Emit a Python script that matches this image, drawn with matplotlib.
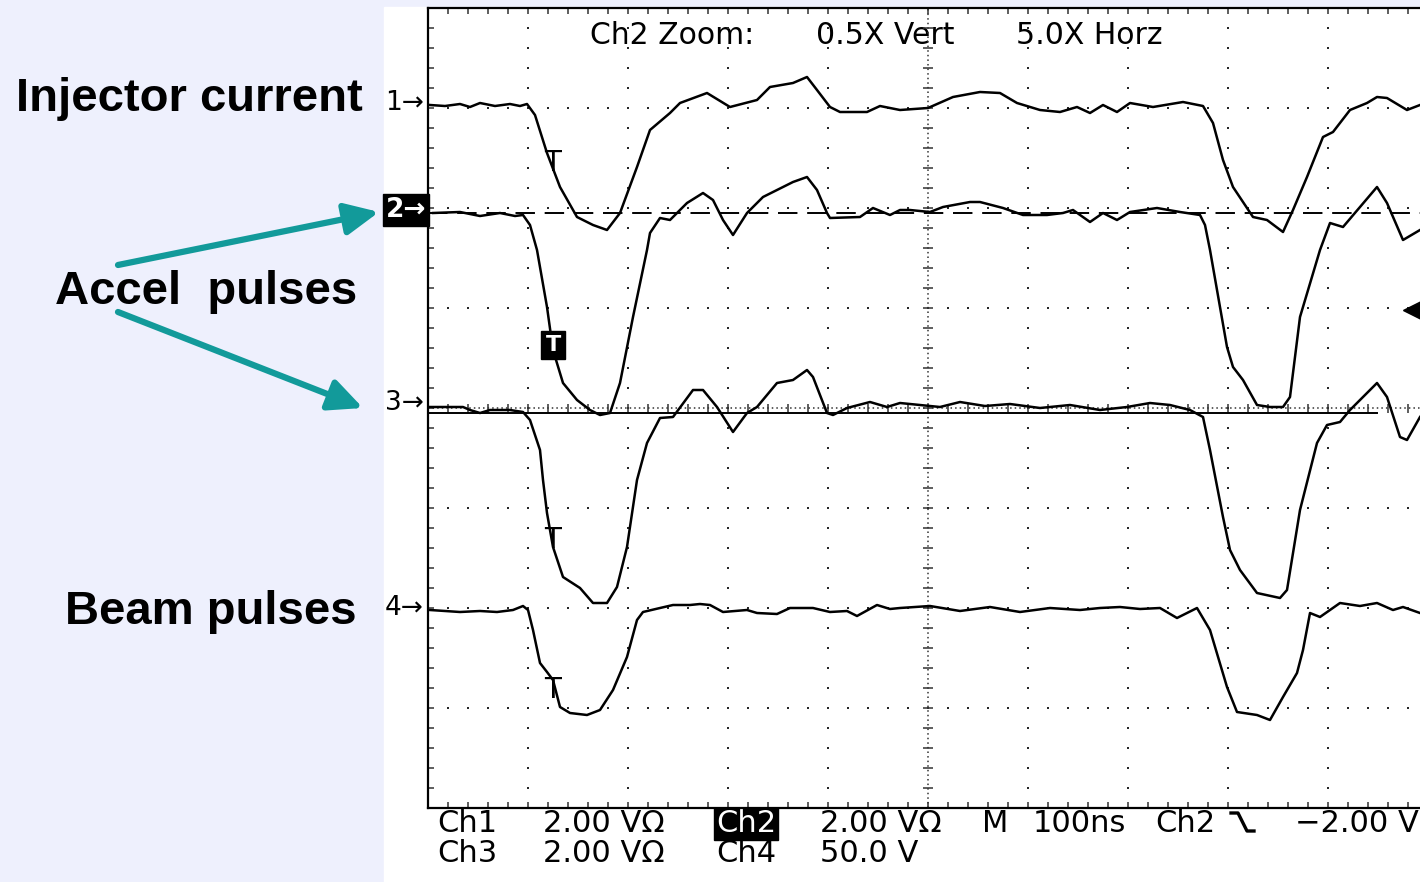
import numpy as np
import matplotlib.pyplot as plt
import matplotlib.transforms as mtransforms
from matplotlib.patches import Rectangle

# scope traces, (time div, level div); 10 x 8 divisions
ch1 = [(0.02, 3.03), (0.17, 3.02), (0.32, 3.04), (0.42, 3.01), (0.52, 3.05), (0.67, 3.02),
       (0.82, 3.04), (0.92, 3.02), (0.99, 3.04), (1.07, 2.93), (1.19, 2.55), (1.32, 2.21),
       (1.49, 1.91), (1.65, 1.83), (1.79, 1.78), (1.92, 1.95), (2.09, 2.41), (2.22, 2.78),
       (2.42, 2.95), (2.52, 3.05), (2.79, 3.15), (3.02, 3.01), (3.29, 3.08), (3.42, 3.21),
       (3.65, 3.25), (3.79, 3.31), (3.89, 3.18), (4.02, 3.01), (4.12, 2.96), (4.39, 2.96),
       (4.52, 3.02), (4.72, 2.98), (5.00, 3.00), (5.25, 3.11), (5.52, 3.16), (5.72, 3.15),
       (5.89, 3.05), (6.12, 2.98), (6.32, 2.96), (6.49, 3.01), (6.62, 2.95), (6.75, 3.03),
       (6.89, 2.96), (7.02, 3.05), (7.25, 3.01), (7.55, 3.06), (7.75, 3.02), (7.85, 2.85),
       (7.95, 2.48), (8.05, 2.21), (8.25, 1.91), (8.39, 1.88), (8.55, 1.76), (8.65, 1.98),
       (8.79, 2.31), (8.95, 2.71), (9.05, 2.76), (9.22, 2.98), (9.39, 3.05), (9.49, 3.11),
       (9.59, 3.10), (9.79, 2.98), (9.92, 3.03)]

ch2 = [(0.05, 1.95), (0.32, 1.96), (0.52, 1.92), (0.72, 1.95), (0.87, 1.92), (0.95, 1.93),
       (1.02, 1.83), (1.09, 1.58), (1.19, 1.01), (1.25, 0.58), (1.35, 0.25), (1.49, 0.08),
       (1.62, -0.02), (1.72, -0.07), (1.82, -0.05), (1.92, 0.25), (2.05, 0.91), (2.19, 1.58),
       (2.22, 1.75), (2.32, 1.90), (2.42, 1.88), (2.59, 2.05), (2.75, 2.15), (2.85, 2.08),
       (2.95, 1.88), (3.05, 1.73), (3.19, 1.95), (3.35, 2.11), (3.55, 2.21), (3.65, 2.26),
       (3.79, 2.31), (3.89, 2.18), (3.99, 1.95), (4.02, 1.90), (4.32, 1.91), (4.45, 2.00),
       (4.62, 1.93), (4.72, 1.98), (4.82, 1.98), (5.02, 1.96), (5.15, 2.01), (5.42, 2.06),
       (5.52, 2.06), (5.75, 2.00), (5.95, 1.93), (6.19, 1.93), (6.35, 1.95), (6.45, 1.98),
       (6.62, 1.86), (6.75, 1.95), (6.89, 1.88), (7.02, 1.96), (7.29, 2.00), (7.52, 1.96),
       (7.72, 1.93), (7.77, 1.83), (7.82, 1.58), (7.99, 0.61), (8.05, 0.41), (8.15, 0.28),
       (8.29, 0.03), (8.42, 0.01), (8.55, 0.01), (8.62, 0.11), (8.72, 0.91), (8.92, 1.58),
       (9.02, 1.85), (9.15, 1.81), (9.32, 2.01), (9.49, 2.21), (9.59, 2.05), (9.75, 1.68),
       (9.92, 1.78)]

ch3 = [(0.02, 0.01), (0.35, 0.01), (0.42, -0.02), (0.52, -0.05), (0.62, -0.02), (0.82, -0.02),
       (0.95, -0.04), (1.02, -0.12), (1.12, -0.42), (1.15, -0.72), (1.19, -1.05), (1.25, -1.39),
       (1.35, -1.69), (1.52, -1.80), (1.65, -1.95), (1.79, -1.95), (1.89, -1.79), (1.99, -1.39),
       (2.09, -0.72), (2.19, -0.35), (2.32, -0.10), (2.45, -0.09), (2.65, 0.18), (2.75, 0.18),
       (2.89, 0.01), (3.05, -0.24), (3.19, -0.05), (3.29, 0.01), (3.49, 0.25), (3.65, 0.28),
       (3.79, 0.38), (3.85, 0.31), (3.99, -0.05), (4.05, -0.07), (4.19, 0.00), (4.42, 0.06),
       (4.59, 0.01), (4.72, 0.05), (4.92, 0.03), (5.12, 0.01), (5.32, 0.06), (5.57, 0.02),
       (5.82, 0.04), (6.12, 0.00), (6.42, 0.03), (6.72, -0.02), (6.99, 0.01), (7.22, 0.05),
       (7.42, 0.03), (7.62, -0.02), (7.75, -0.09), (7.82, -0.42), (7.95, -1.09), (8.02, -1.42),
       (8.12, -1.62), (8.29, -1.85), (8.52, -1.90), (8.59, -1.82), (8.72, -1.02), (8.89, -0.35),
       (8.99, -0.17), (9.12, -0.14), (9.22, -0.02), (9.49, 0.25), (9.59, 0.11), (9.72, -0.29),
       (9.79, -0.32), (9.92, -0.09)]

ch4 = [(0.02, -2.02), (0.32, -2.04), (0.52, -2.03), (0.69, -2.04), (0.85, -2.02), (0.95, -1.98),
       (1.00, -2.02), (1.05, -2.22), (1.12, -2.55), (1.19, -2.64), (1.25, -2.72), (1.32, -2.99),
       (1.42, -3.05), (1.59, -3.07), (1.72, -3.02), (1.85, -2.82), (1.99, -2.49), (2.09, -2.12),
       (2.15, -2.04), (2.32, -2.00), (2.45, -1.97), (2.62, -1.97), (2.72, -1.96), (2.82, -1.97),
       (2.95, -2.04), (3.19, -2.02), (3.29, -2.05), (3.49, -2.06), (3.62, -2.00), (3.85, -2.00),
       (4.02, -2.04), (4.19, -2.03), (4.29, -2.08), (4.49, -1.97), (4.62, -2.01), (4.72, -2.00),
       (5.02, -1.98), (5.32, -2.03), (5.62, -1.99), (5.92, -2.04), (6.22, -2.00), (6.52, -2.02),
       (6.72, -2.00), (6.92, -1.99), (7.12, -2.01), (7.32, -2.00), (7.49, -2.10), (7.69, -2.00),
       (7.82, -2.22), (7.99, -2.79), (8.09, -3.04), (8.29, -3.07), (8.42, -3.12), (8.55, -2.89),
       (8.69, -2.65), (8.75, -2.42), (8.82, -2.05), (8.92, -2.09), (9.12, -1.95), (9.32, -1.98),
       (9.49, -1.95), (9.65, -2.02), (9.75, -1.99), (9.92, -2.05)]

ground_levels = [3.05, 1.98, 0.05, -2.00]
ground_labels = ['1\u2192', '2\u2192', '3\u2192', '4\u2192']
ch2_zoom_ref = 1.95
ch3_ref = -0.05
ch3_ref_end = 9.49
trig_time, trig_level = 9.85, 0.98
t_marks = [(1.25, 2.55), (1.25, -1.22), (1.25, -2.72)]
t_mark_ch2 = (1.25, 0.63)

zoom_info = ['Ch2 Zoom:', '0.5X Vert', '5.0X Horz']
readout_1 = ['Ch1', '2.00 V\u03a9', 'Ch2', '2.00 V\u03a9', 'M', '100ns', 'Ch2', '\u22122.00 V']
readout_2 = ['Ch3', '2.00 V\u03a9', 'Ch4', '50.0 V']
side_labels = ['Injector current', 'Accel  pulses', 'Beam pulses']

W, H = 1420, 882
fig = plt.figure(figsize=(W / 100, H / 100), dpi=100)
fig.patch.set_facecolor('#eef0fd')

# layout layer in pixel units
lay = fig.add_axes([0, 0, 1, 1])
lay.set_xlim(0, W)
lay.set_ylim(H, 0)
lay.axis('off')
lay.add_patch(Rectangle((384, 7), W - 384, H - 7, color='white', zorder=0))

teal = '#129a9a'
for txt, xr, yb in zip(side_labels, [363, 357, 357], [111, 304, 624]):
    lay.text(xr, yb, txt, ha='right', va='baseline', fontsize=34, fontweight='bold',
             family=['Liberation Sans', 'DejaVu Sans'])
for tail, tip in [((118, 265), (379, 212)), ((118, 312), (363, 408))]:
    lay.annotate('', xy=tip, xytext=tail,
                 arrowprops=dict(arrowstyle='-|>,head_length=0.85,head_width=0.4',
                                 lw=4.5, color=teal, mutation_scale=24,
                                 shrinkA=0, shrinkB=0))

for txt, x in zip(zoom_info, [590, 816, 1016]):
    lay.text(x, 36, txt, ha='left', va='center', fontsize=21.5)
for txt, x in zip(readout_1, [437, 543, 716, 820, 982, 1033, 1155, 1295]):
    if txt == 'Ch2' and x < 800:
        lay.text(x, 824, txt, ha='left', va='center', fontsize=22, color='white',
                 bbox=dict(facecolor='black', edgecolor='black', boxstyle='square,pad=0.05'))
    else:
        lay.text(x, 824, txt, ha='left', va='center', fontsize=22)
for txt, x in zip(readout_2, [437, 543, 716, 820]):
    lay.text(x, 853, txt, ha='left', va='center', fontsize=22)
# falling-edge trigger glyph
lay.plot([1231, 1238, 1247, 1254], [813, 813, 831, 831], color='black', lw=2.4)

# scope graticule
ax = fig.add_axes([428 / W, (H - 808) / H, 1000 / W, 800 / H])
ax.set_facecolor('none')
ax.set_xlim(0, 10)
ax.set_ylim(-4, 4)
ax.set_xticks([])
ax.set_yticks([])
ax.spines['right'].set_visible(False)
for s in ['left', 'top', 'bottom']:
    ax.spines[s].set_linewidth(1.6)

fx = np.arange(0, 10.001, 0.2)
fy = np.arange(-4, 4.001, 0.2)
dot = dict(ls='none', marker='s', ms=1.7, color='0.15', mew=0)
for gx in [1, 2, 3, 4, 6, 7, 8, 9]:
    ax.plot(np.full(len(fy), gx), fy, **dot)
for gy in [-3, -2, -1, 1, 2, 3]:
    ax.plot(fx, np.full(len(fx), gy), **dot)
ax.axvline(5, ls=(0, (1, 2)), lw=1.1, color='0.2')
ax.axhline(0, ls=(0, (1, 2)), lw=1.1, color='0.2')
ax.hlines(fy, 4.95, 5.05, lw=1.1, color='0.2')
ax.vlines(fx, -0.045, 0.045, lw=1.1, color='0.2')
ax.hlines(fy, 0, 0.06, lw=1.1, color='0.2')
ax.vlines(fx, 3.94, 4, lw=1.1, color='0.2')
ax.vlines(fx, -4, -3.94, lw=1.1, color='0.2')

ax.axhline(ch2_zoom_ref, ls=(0, (10, 5)), lw=1.4, color='black')
ax.plot([0, ch3_ref_end], [ch3_ref, ch3_ref], lw=1.4, color='black')

for ch in [ch1, ch2, ch3, ch4]:
    t, v = zip(*ch)
    ax.plot(t, v, color='black', lw=1.8)

for t, v in t_marks:
    ax.text(t, v + 0.04, 'T', ha='center', va='top', fontsize=20)
ax.text(t_mark_ch2[0], t_mark_ch2[1], 'T', ha='center', va='center', fontsize=16,
        color='white', fontweight='bold',
        bbox=dict(facecolor='black', edgecolor='black', boxstyle='square,pad=0.18'))

trans = mtransforms.blended_transform_factory(ax.transAxes, ax.transData)
for lvl, lab in zip(ground_levels, ground_labels):
    if lab.startswith('2'):
        ax.text(-0.002, lvl, lab, transform=trans, ha='right', va='center', fontsize=19,
                color='white', fontweight='bold', clip_on=False,
                bbox=dict(facecolor='black', edgecolor='black', boxstyle='square,pad=0.1'))
    else:
        ax.text(-0.004, lvl, lab, transform=trans, ha='right', va='center', fontsize=19,
                clip_on=False)

ax.plot(trig_time, trig_level, marker='<', ms=14, color='black', clip_on=False)

fig.savefig('out.png', dpi=100, facecolor=fig.get_facecolor())
